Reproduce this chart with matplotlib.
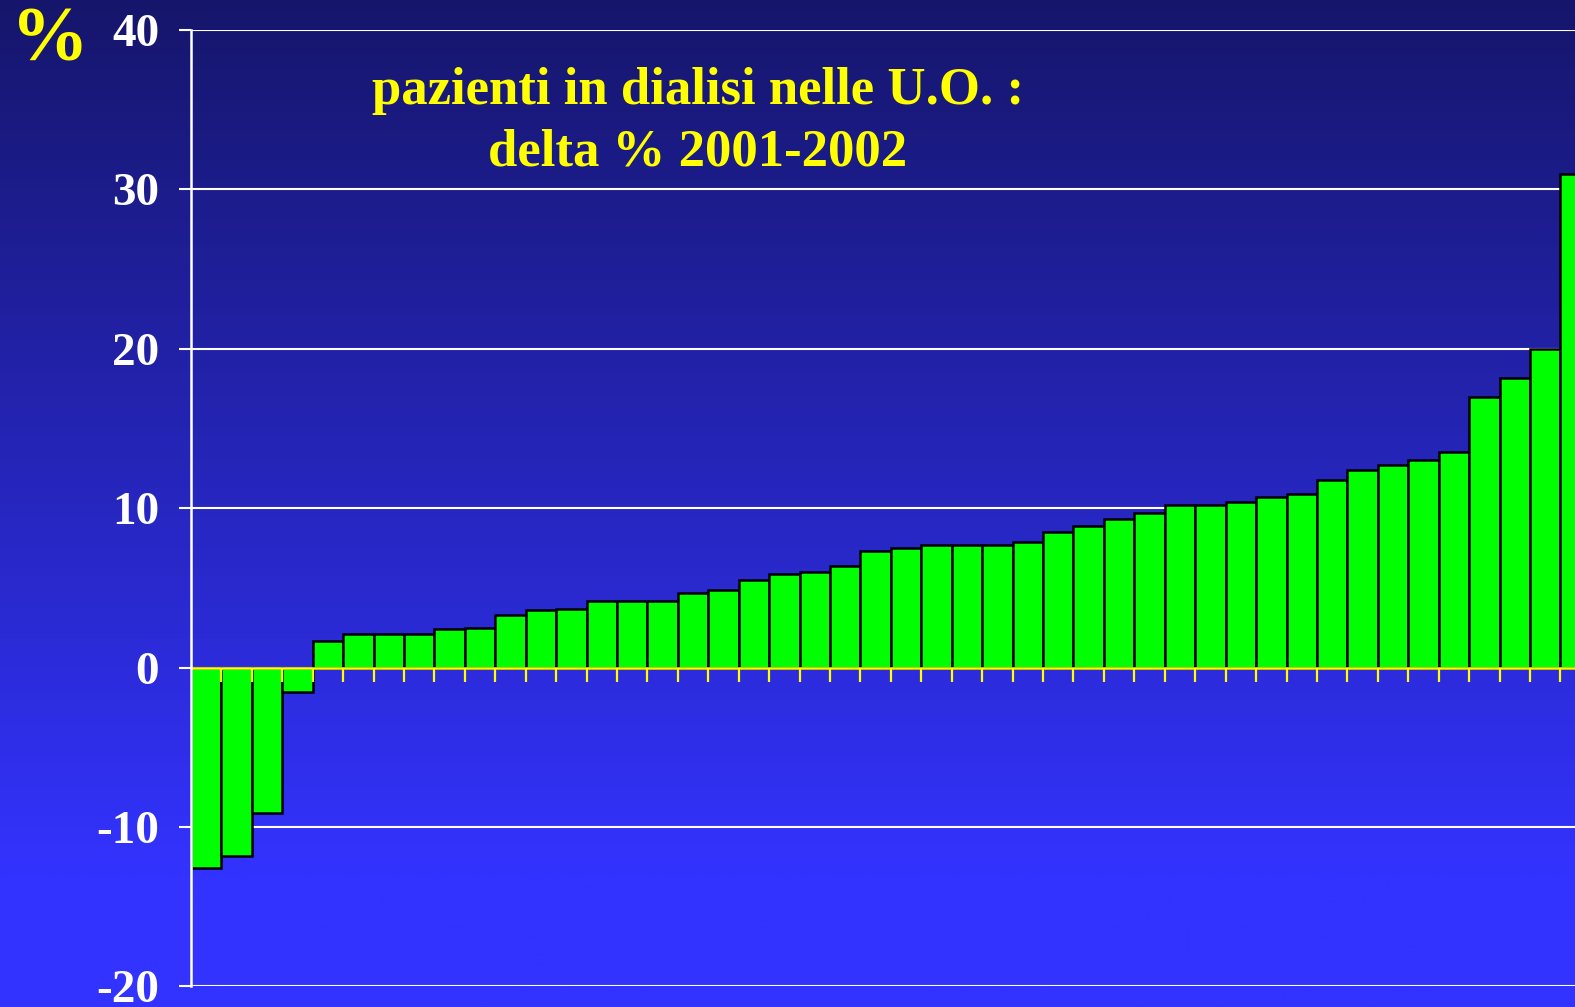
import numpy as np
import matplotlib
matplotlib.use("Agg")
import matplotlib.pyplot as plt

# Data
values = [-12.6, -11.8, -9.1, -1.5, 1.7, 2.1, 2.1, 2.1, 2.4, 2.5,
          3.3, 3.6, 3.7, 4.2, 4.2, 4.2, 4.7, 4.9, 5.5, 5.9,
          6.0, 6.4, 7.3, 7.5, 7.7, 7.7, 7.7, 7.9, 8.5, 8.9,
          9.3, 9.7, 10.2, 10.2, 10.4, 10.7, 10.9, 11.8, 12.4, 12.7,
          13.0, 13.5, 17.0, 18.2, 20.0, 31.0]
yticks = [-20, -10, 0, 10, 20, 30, 40]
title_lines = ["pazienti in dialisi nelle U.O. :", "delta % 2001-2002"]

W, H = 1575, 1007
fig = plt.figure(figsize=(W / 100, H / 100), dpi=100)

# gradient background
bg = fig.add_axes([0, 0, 1, 1], zorder=0)
rows = np.linspace(0, 1, 500)
t = np.clip(rows / 0.87, 0, 1)
top = np.array([0.085, 0.085, 0.42])
bot = np.array([0.20, 0.20, 1.0])
grad = top[None, :] + (bot - top)[None, :] * t[:, None]
img = np.repeat(grad[:, None, :], 2, axis=1)
bg.imshow(img, aspect="auto", extent=[0, 1, 0, 1], origin="upper")
bg.set_axis_off()

left = 191 / W
y_top, y_bot = 30.1, 986.4
ax = fig.add_axes([left, (H - y_bot) / H, 1 - left, (y_bot - y_top) / H], zorder=1)
ax.set_facecolor("none")

x = np.arange(len(values))
ax.bar(x, values, width=1.0, color="#00ff00", edgecolor="black", linewidth=1.8, zorder=3)

ax.set_xlim(-0.5, 44.98)
ax.set_ylim(-20, 40)
ax.set_yticks(yticks)
ax.set_yticklabels([str(v) for v in yticks], color="white",
                   fontfamily="Liberation Serif", fontweight="bold", fontsize=34)
ax.tick_params(axis="y", length=9, width=1.5, color="white", pad=14, direction="out")
ax.yaxis.grid(True, color="white", linewidth=1.5, zorder=1)
ax.set_axisbelow(True)
for s in ["top", "right", "bottom"]:
    ax.spines[s].set_visible(False)
ax.spines["left"].set_color("white")
ax.spines["left"].set_linewidth(1.8)
ax.spines["left"].set_zorder(5)
ax.set_xticks([])

# yellow zero line with tick marks
ax.axhline(0, color="#ffff00", linewidth=1.8, zorder=4)
tick_pos = np.arange(len(values)) + 0.5
ax.vlines(tick_pos, -0.9, 0, color="#ffff00", linewidth=1.6, zorder=4)

fig.text(50 / W, 1 - 42 / H, "%", color="#ffff00", fontfamily="Liberation Serif",
         fontweight="bold", fontsize=56, ha="center", va="center")
fig.text(698 / W, 1 - 91 / H, title_lines[0], color="#ffff00", fontfamily="Liberation Serif",
         fontweight="bold", fontsize=38, ha="center", va="center")
fig.text(698 / W, 1 - 153 / H, title_lines[1], color="#ffff00", fontfamily="Liberation Serif",
         fontweight="bold", fontsize=38, ha="center", va="center")

fig.savefig("out.png", dpi=100)
